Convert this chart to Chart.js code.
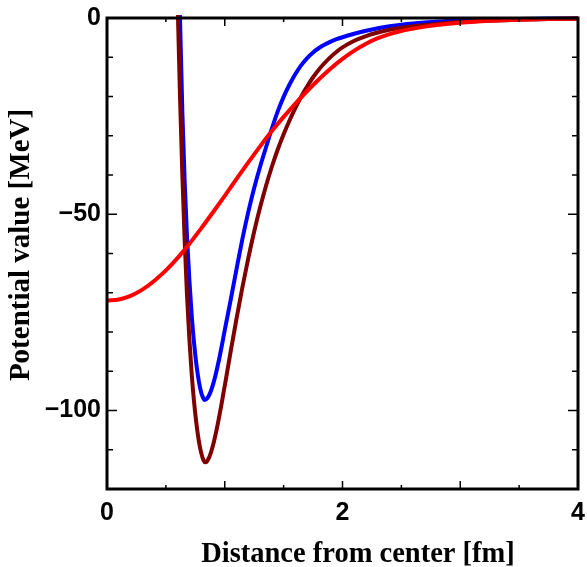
<!DOCTYPE html>
<html>
<head>
<meta charset="utf-8">
<script src="https://cdn.jsdelivr.net/npm/chart.js@4/dist/chart.umd.min.js"></script>
<style>
html,body{margin:0;padding:0;background:#fff;}
#wrap{width:587px;height:567px;position:relative;}
</style>
</head>
<body>
<div id="wrap"><canvas id="c" width="587" height="567"></canvas></div>
<script>
// ---- data ----
const xTitle = "Distance from center [fm]";
const yTitle = "Potential value [MeV]";
const xLabeled = [0, 2, 4];
const yLabeled = [0, -50, -100];

const redX  = [0, 0.1, 0.2, 0.3, 0.4, 0.5, 0.6, 0.7, 0.8, 0.9, 1.0, 1.1, 1.2, 1.3, 1.4, 1.5, 1.6, 1.7, 1.8, 1.9, 2.0, 2.1, 2.2, 2.3, 2.4, 2.5, 2.6, 2.7, 2.8, 3.0, 3.25, 3.5, 3.75, 4.0];
const redY  = [-72, -71.7, -70.8, -69.2, -67.0, -64.3, -61.1, -57.5, -53.6, -49.5, -45.3, -41.0, -36.8, -32.7, -28.8, -25.2, -21.8, -18.6, -15.6, -12.85, -10.4, -8.3, -6.55, -5.15, -4.1, -3.3, -2.7, -2.2, -1.8, -1.2, -0.72, -0.43, -0.26, -0.15];

const blueX = [0.58, 0.60, 0.62, 0.64, 0.66, 0.68, 0.70, 0.72, 0.74, 0.76, 0.78, 0.80, 0.82, 0.83, 0.84, 0.86, 0.88, 0.90, 0.92, 0.94, 0.96, 0.98, 1.00, 1.02, 1.05, 1.10, 1.15, 1.20, 1.25, 1.30, 1.35, 1.40, 1.45, 1.50, 1.55, 1.60, 1.65, 1.70, 1.75, 1.80, 1.85, 1.90, 1.95, 2.0, 2.1, 2.2, 2.3, 2.4, 2.5, 2.6, 2.8, 3.0, 3.25, 3.5, 3.75, 4.0];
const blueY = [70, 30, 0, -24, -42, -56, -67, -76, -83, -88.5, -92.6, -95.4, -97.0, -97.3, -97.2, -96.5, -95.2, -93.4, -91.2, -88.6, -85.8, -82.7, -79.5, -76.5, -71.85, -63.95, -56.3, -49.4, -43.3, -37.9, -33.0, -28.2, -23.8, -20.1, -16.95, -14.25, -12.0, -10.2, -8.77, -7.64, -6.74, -6.01, -5.41, -4.9, -4.0, -3.25, -2.62, -2.12, -1.72, -1.42, -0.98, -0.66, -0.4, -0.24, -0.14, -0.08];

const darkX = [0.565, 0.585, 0.603, 0.62, 0.64, 0.66, 0.68, 0.70, 0.72, 0.74, 0.76, 0.78, 0.80, 0.82, 0.835, 0.85, 0.87, 0.89, 0.91, 0.93, 0.95, 0.97, 0.99, 1.01, 1.05, 1.10, 1.15, 1.20, 1.25, 1.30, 1.35, 1.40, 1.45, 1.50, 1.55, 1.60, 1.65, 1.70, 1.75, 1.80, 1.85, 1.90, 1.95, 2.0, 2.1, 2.2, 2.3, 2.4, 2.5, 2.6, 2.8, 3.0, 3.25, 3.5, 3.75, 4.0];
const darkY = [55, 25, 0, -20, -40, -57, -71, -82, -91, -98, -103.5, -107.8, -110.8, -112.7, -113.2, -112.9, -111.8, -110.0, -107.7, -105.0, -102.0, -98.8, -95.4, -92.0, -85.0, -76.6, -68.6, -61.2, -54.4, -48.3, -42.8, -37.9, -33.5, -29.6, -26.1, -22.9, -20.0, -17.4, -15.1, -13.1, -11.4, -9.9, -8.6, -7.5, -5.8, -4.6, -3.7, -3.0, -2.5, -2.1, -1.5, -1.05, -0.7, -0.45, -0.28, -0.17];

function pts(xs, ys){ return xs.map((x,i)=>({x:x, y:ys[i]})); }

const frameTicks = {
  id: 'frameTicks',
  afterDatasetsDraw(chart){
    const ctx = chart.ctx, a = chart.chartArea;
    const xs = chart.scales.x, ys = chart.scales.y;
    ctx.save();
    ctx.strokeStyle = '#000';
    ctx.lineWidth = 1.5;
    ctx.beginPath();
    xs.ticks.forEach(t=>{
      const v = t.value, p = xs.getPixelForValue(v);
      const len = Math.abs(v - Math.round(v)) < 1e-9 ? 8 : 4;
      ctx.moveTo(p, a.bottom); ctx.lineTo(p, a.bottom - len);
      ctx.moveTo(p, a.top); ctx.lineTo(p, a.top + len);
    });
    ys.ticks.forEach(t=>{
      const v = t.value, p = ys.getPixelForValue(v);
      const len = Math.abs(v % 50) < 1e-9 ? 10 : 6;
      ctx.moveTo(a.left, p); ctx.lineTo(a.left + len, p);
      ctx.moveTo(a.right, p); ctx.lineTo(a.right - len, p);
    });
    ctx.stroke();
    ctx.lineWidth = 3;
    ctx.strokeRect(a.left, a.top, a.right - a.left, a.bottom - a.top);
    // axis titles
    ctx.fillStyle = '#000';
    ctx.textAlign = 'center';
    ctx.textBaseline = 'middle';
    ctx.font = 'bold 28.5px "Liberation Serif", "Times New Roman", serif';
    ctx.fillText(xTitle, 358, 555);
    ctx.font = 'bold 29px "Liberation Serif", "Times New Roman", serif';
    ctx.translate(22, 245);
    ctx.rotate(-Math.PI/2);
    ctx.fillText(yTitle, 0, 0);
    ctx.restore();
  }
};

const lineOpts = {showLine:true, pointRadius:0, borderWidth:4, fill:false, cubicInterpolationMode:'monotone', clip:{left:0, top:3, right:3, bottom:0}};

new Chart(document.getElementById('c'), {
  type: 'scatter',
  data: {
    datasets: [
      Object.assign({label:'red', data: pts(redX, redY), borderColor:'#ff0000', backgroundColor:'#ff0000'}, lineOpts),
      Object.assign({label:'dark', data: pts(darkX, darkY), borderColor:'#7f0000', backgroundColor:'#7f0000'}, lineOpts),
      Object.assign({label:'blue', data: pts(blueX, blueY), borderColor:'#0000ff', backgroundColor:'#0000ff'}, lineOpts)
    ]
  },
  options: {
    responsive:false,
    animation:false,
    devicePixelRatio:1,
    layout:{padding:{left:0, right:9, top:18, bottom:0}},
    plugins:{legend:{display:false}, tooltip:{enabled:false}},
    scales:{
      x:{
        type:'linear', min:0, max:4,
        grid:{display:true, drawOnChartArea:false, drawTicks:false},
        border:{display:false},
        afterFit(s){ s.height = 78; s.paddingLeft = 0; s.paddingRight = 0; },
        ticks:{
          stepSize:0.5, autoSkip:false, maxRotation:0, padding:9, color:'#000',
          font:{family:'"Liberation Sans", Arial, sans-serif', size:25, weight:'bold'},
          callback(v){ return xLabeled.includes(v) ? String(v) : ''; }
        }
      },
      y:{
        type:'linear', min:-120, max:0,
        grid:{display:true, drawOnChartArea:false, drawTicks:false},
        border:{display:false},
        afterFit(s){ s.width = 107; s.paddingTop = 0; s.paddingBottom = 0; },
        ticks:{
          stepSize:10, autoSkip:false, padding:6, color:'#000',
          font:{family:'"Liberation Sans", Arial, sans-serif', size:25, weight:'bold'},
          callback(v){ return yLabeled.includes(v) ? (v < 0 ? '\u2212' + Math.abs(v) : String(v)) : ''; }
        }
      }
    }
  },
  plugins:[frameTicks]
});
</script>
</body>
</html>
